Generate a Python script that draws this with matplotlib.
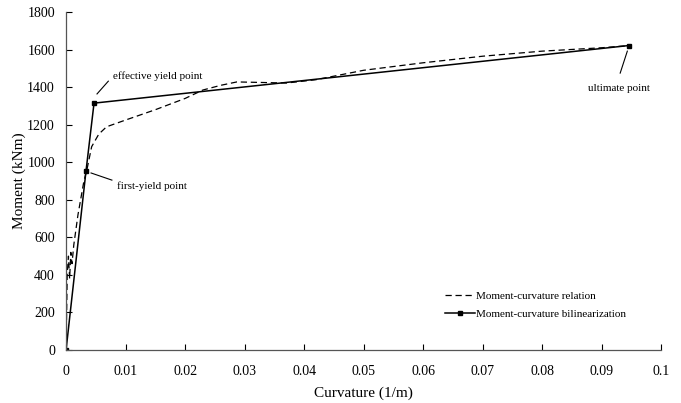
import matplotlib
matplotlib.use('Agg')
import matplotlib.pyplot as plt

plt.rcParams['font.family'] = ['Liberation Serif', 'DejaVu Serif']

# Moment-curvature relation (dashed)
curv_rel = [0.0, 0.0002, 0.0004, 0.0006, 0.0008, 0.001, 0.0013, 0.002, 0.003, 0.0035,
            0.0043, 0.0055, 0.0068, 0.01, 0.015, 0.02, 0.023, 0.026, 0.0287, 0.033,
            0.037, 0.042, 0.05, 0.06, 0.07, 0.08, 0.09, 0.0948]
mom_rel = [0, 410, 500, 380, 520, 460, 560, 720, 900, 960,
           1083, 1150, 1189, 1225, 1280, 1340, 1385, 1410, 1428, 1425,
           1422, 1440, 1490, 1530, 1565, 1592, 1610, 1622]

# Bilinearization (solid with markers)
curv_bil = [0.0, 0.00335, 0.0047, 0.0946]
mom_bil = [0, 953, 1315, 1622]

fig = plt.figure(figsize=(6.81, 4.03), dpi=100)
ax = fig.add_axes([0.097, 0.1315, 0.874, 0.8385])

ax.plot(curv_rel, mom_rel, '--', color='black', linewidth=0.9,
        dashes=(5, 3), label='Moment-curvature relation')
ax.plot(curv_bil, mom_bil, '-', color='black', linewidth=1.1, marker='s',
        markersize=3, label='Moment-curvature bilinearization')

ax.set_xlim(0, 0.1)
ax.set_ylim(0, 1800)
ax.set_xticks([0, 0.01, 0.02, 0.03, 0.04, 0.05, 0.06, 0.07, 0.08, 0.09, 0.1])
ax.set_xticklabels(['0', '0.01', '0.02', '0.03', '0.04', '0.05', '0.06',
                    '0.07', '0.08', '0.09', '0.1'])
ax.set_yticks(range(0, 1801, 200))
ax.tick_params(direction='in', length=4, labelsize=10, width=0.8)
ax.tick_params(axis='x', pad=11)
ax.tick_params(axis='y', pad=8)
for s in ['top', 'right']:
    ax.spines[s].set_visible(False)
for s in ['left', 'bottom']:
    ax.spines[s].set_color('#555555')
    ax.spines[s].set_linewidth(0.9)

ax.set_xlabel('Curvature (1/m)', fontsize=11, labelpad=6)
ax.set_ylabel('Moment (kNm)', fontsize=11, labelpad=1)

# annotation leaders and texts
ax.plot([0.0052, 0.0071], [1364, 1432], color='black', lw=0.8)
ax.text(0.0079, 1459, 'effective yield point', fontsize=8, va='center', ha='left')
ax.plot([0.0042, 0.0077], [943, 905], color='black', lw=0.8)
ax.text(0.0086, 873, 'first-yield point', fontsize=8, va='center', ha='left')
ax.plot([0.0943, 0.0931], [1592, 1475], color='black', lw=0.8)
ax.text(0.0877, 1395, 'ultimate point', fontsize=8, va='center', ha='left')

ax.legend(loc='center left', bbox_to_anchor=(0.636, 0.133), frameon=False,
          fontsize=8, handlelength=2.7, handletextpad=0.15, labelspacing=0.7,
          borderpad=0, borderaxespad=0)

plt.savefig('out.png', dpi=100)
plt.close()
